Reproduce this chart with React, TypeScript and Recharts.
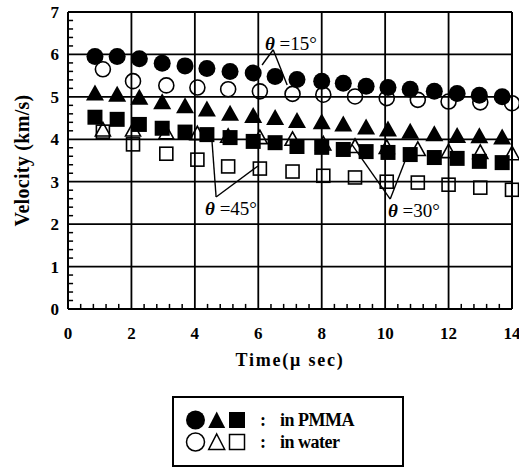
import React from 'react';
import {
  ScatterChart,
  Scatter,
  XAxis,
  YAxis,
  CartesianGrid,
  ReferenceLine,
  ReferenceDot,
  Legend,
} from 'recharts';

// ---- data (time in µs, velocity in km/s) ----
const pmmaTime = [0.85, 1.55, 2.25, 2.97, 3.69, 4.38, 5.11, 5.84, 6.53, 7.22, 8.0, 8.68, 9.4, 10.09, 10.79, 11.55, 12.27, 12.97, 13.69];
const pmmaTheta15 = [5.95, 5.95, 5.9, 5.79, 5.73, 5.67, 5.6, 5.56, 5.48, 5.41, 5.37, 5.32, 5.25, 5.22, 5.18, 5.13, 5.08, 5.04, 5.0];
const pmmaTheta30 = [5.08, 5.05, 4.98, 4.87, 4.78, 4.7, 4.6, 4.55, 4.5, 4.43, 4.4, 4.35, 4.28, 4.23, 4.18, 4.12, 4.08, 4.07, 4.04];
const pmmaTheta45 = [4.52, 4.47, 4.35, 4.26, 4.17, 4.11, 4.04, 3.95, 3.92, 3.83, 3.81, 3.76, 3.71, 3.69, 3.64, 3.57, 3.55, 3.48, 3.45];

const waterTime = [1.1, 2.05, 3.1, 4.08, 5.05, 6.05, 7.08, 8.05, 9.05, 10.05, 11.03, 12.0, 13.0, 14.0];
const waterTheta15 = [5.65, 5.37, 5.27, 5.22, 5.18, 5.13, 5.07, 5.05, 5.01, 4.97, 4.93, 4.89, 4.87, 4.85];
const waterTheta30 = [4.22, 4.22, 4.15, 4.13, 4.07, 4.04, 4.0, 3.89, 3.83, 3.81, 3.76, 3.71, 3.69, 3.66];
const waterTheta45 = [4.18, 3.88, 3.66, 3.52, 3.36, 3.31, 3.24, 3.14, 3.1, 3.0, 2.98, 2.93, 2.86, 2.81];

const xTicks = [0, 2, 4, 6, 8, 10, 12, 14];
const yTicks = [0, 1, 2, 3, 4, 5, 6, 7];
const xMinorTicks = [0.4, 0.8, 1.2, 1.6, 2.4, 2.8, 3.2, 3.6, 4.4, 4.8, 5.2, 5.6, 6.4, 6.8, 7.2, 7.6, 8.4, 8.8, 9.2, 9.6, 10.4, 10.8, 11.2, 11.6, 12.4, 12.8, 13.2, 13.6];
const yMinorTicks = [0.2, 0.4, 0.6, 0.8, 1.2, 1.4, 1.6, 1.8, 2.2, 2.4, 2.6, 2.8, 3.2, 3.4, 3.6, 3.8, 4.2, 4.4, 4.6, 4.8, 5.2, 5.4, 5.6, 5.8, 6.2, 6.4, 6.6, 6.8];

const toPoints = (times: number[], values: number[]) => times.map((t, i) => ({ t, v: values[i] }));

const FONT = '"Liberation Serif", "Times New Roman", serif';

// ---- marker shapes ----
const filledCircle = (p: any) => <circle cx={p.cx} cy={p.cy} r={8.5} fill="#000" />;
const openCircle = (p: any) => <circle cx={p.cx} cy={p.cy} r={7.5} fill="none" stroke="#000" strokeWidth={1.6} />;
const filledTriangle = (p: any) => {
  const { cx, cy } = p;
  return <polygon points={`${cx},${cy - 9} ${cx + 9},${cy + 7} ${cx - 9},${cy + 7}`} fill="#000" />;
};
const openTriangle = (p: any) => {
  const { cx, cy } = p;
  return (
    <polygon
      points={`${cx},${cy - 7.5} ${cx + 7.5},${cy + 6} ${cx - 7.5},${cy + 6}`}
      fill="none"
      stroke="#000"
      strokeWidth={1.6}
    />
  );
};
const filledSquare = (p: any) => <rect x={p.cx - 7.5} y={p.cy - 7.5} width={15} height={15} fill="#000" />;
const openSquare = (p: any) => (
  <rect x={p.cx - 6.5} y={p.cy - 6.5} width={13} height={13} fill="none" stroke="#000" strokeWidth={1.6} />
);

const thetaLabel = (text: string) => (props: any) => {
  const vb = props.viewBox || {};
  return (
    <text x={vb.x} y={vb.y} fontFamily={FONT} fontSize={19} fill="#000">
      <tspan fontStyle="italic" fontWeight="bold">θ</tspan>
      <tspan> ={text}</tspan>
    </text>
  );
};

const LegendBox = () => (
  <svg width={232} height={71} style={{ display: 'block' }}>
    <rect x={1} y={1} width={230} height={69} fill="#fff" stroke="#000" strokeWidth={2} />
    <circle cx={23.5} cy={24} r={9.5} fill="#000" />
    <polygon points="44.7,15.5 53.2,32 36.2,32" fill="#000" />
    <rect x={57} y={16} width={16} height={16} fill="#000" />
    <text x={88} y={30} fontFamily={FONT} fontWeight="bold" fontSize={18} fill="#000">:</text>
    <text x={108} y={30} fontFamily={FONT} fontWeight="bold" fontSize={18} letterSpacing={-0.5} fill="#000">in PMMA</text>
    <circle cx={23.5} cy={46} r={9} fill="none" stroke="#000" strokeWidth={1.5} />
    <polygon points="44.7,38 52.7,53.5 36.7,53.5" fill="none" stroke="#000" strokeWidth={1.5} />
    <rect x={57.5} y={38.5} width={15} height={15} fill="none" stroke="#000" strokeWidth={1.5} />
    <text x={88} y={52} fontFamily={FONT} fontWeight="bold" fontSize={18} fill="#000">:</text>
    <text x={108} y={52} fontFamily={FONT} fontWeight="bold" fontSize={18} letterSpacing={-0.5} fill="#000">in water</text>
  </svg>
);

const xTitle = (props: any) => {
  const vb = props.viewBox || {};
  return (
    <text
      x={vb.x + vb.width / 2}
      y={vb.y + 57}
      textAnchor="middle"
      fontFamily={FONT}
      fontWeight="bold"
      fontSize={18}
      letterSpacing={1.8}
      fill="#000"
    >
      Time(μ sec)
    </text>
  );
};

const yTitle = (props: any) => {
  const vb = props.viewBox || {};
  const cx = 29;
  const cy = vb.y + vb.height / 2;
  return (
    <text
      x={cx}
      y={cy}
      transform={`rotate(-90 ${cx} ${cy})`}
      textAnchor="middle"
      fontFamily={FONT}
      fontWeight="bold"
      fontSize={20}
      letterSpacing={0.3}
      fill="#000"
    >
      Velocity (km/s)
    </text>
  );
};

const tickStyle = { fill: '#000', fontSize: 17, fontWeight: 700, fontFamily: FONT };

export default function App() {
  return (
    <div style={{ position: 'absolute', left: 0, top: 0, width: 519, height: 471, background: '#fff' }}>
      <ScatterChart width={519} height={471} margin={{ top: 12, right: 7, bottom: 132, left: 28 }}>
        <CartesianGrid stroke="#000" strokeWidth={1.8} />
        <XAxis
          dataKey="t"
          type="number"
          domain={[0, 14]}
          ticks={xTicks}
          interval={0}
          tickLine={false}
          tickSize={0}
          tickMargin={18}
          height={30}
          axisLine={{ stroke: '#000', strokeWidth: 2 }}
          tick={tickStyle}
          label={xTitle}
        />
        <YAxis
          dataKey="v"
          type="number"
          domain={[0, 7]}
          ticks={yTicks}
          interval={0}
          tickLine={false}
          tickSize={0}
          tickMargin={9}
          width={40}
          axisLine={{ stroke: '#000', strokeWidth: 2 }}
          tick={tickStyle}
          label={yTitle}
        />
        <ReferenceLine y={7} stroke="#000" strokeWidth={2} />
        <ReferenceLine x={14} stroke="#000" strokeWidth={2} />
        {xMinorTicks.map((t) => (
          <ReferenceLine key={'xm' + t} segment={[{ x: t, y: 0 }, { x: t, y: 0.12 }]} stroke="#000" strokeWidth={1.5} />
        ))}
        {yMinorTicks.map((v) => (
          <ReferenceLine key={'ym' + v} segment={[{ x: 0, y: v }, { x: 0.16, y: v }]} stroke="#000" strokeWidth={1.5} />
        ))}

        <Scatter name="water θ=15°" data={toPoints(waterTime, waterTheta15)} shape={openCircle} isAnimationActive={false} />
        <Scatter name="water θ=30°" data={toPoints(waterTime, waterTheta30)} shape={openTriangle} isAnimationActive={false} />
        <Scatter name="water θ=45°" data={toPoints(waterTime, waterTheta45)} shape={openSquare} isAnimationActive={false} />
        <Scatter name="PMMA θ=15°" data={toPoints(pmmaTime, pmmaTheta15)} shape={filledCircle} isAnimationActive={false} />
        <Scatter name="PMMA θ=30°" data={toPoints(pmmaTime, pmmaTheta30)} shape={filledTriangle} isAnimationActive={false} />
        <Scatter name="PMMA θ=45°" data={toPoints(pmmaTime, pmmaTheta45)} shape={filledSquare} isAnimationActive={false} />

        {/* leader lines */}
        <ReferenceLine segment={[{ x: 6.12, y: 5.75 }, { x: 6.47, y: 6.11 }]} stroke="#000" strokeWidth={1.4} />
        <ReferenceLine segment={[{ x: 6.47, y: 6.11 }, { x: 6.91, y: 5.28 }]} stroke="#000" strokeWidth={1.4} />
        <ReferenceLine segment={[{ x: 4.67, y: 2.64 }, { x: 4.54, y: 3.96 }]} stroke="#000" strokeWidth={1.4} />
        <ReferenceLine segment={[{ x: 4.67, y: 2.64 }, { x: 5.99, y: 3.37 }]} stroke="#000" strokeWidth={1.4} />
        <ReferenceLine segment={[{ x: 10.16, y: 2.59 }, { x: 8.96, y: 3.87 }]} stroke="#000" strokeWidth={1.4} />
        <ReferenceLine segment={[{ x: 10.16, y: 2.59 }, { x: 10.79, y: 3.8 }]} stroke="#000" strokeWidth={1.4} />

        <ReferenceDot x={6.21} y={6.11} r={0} fill="none" stroke="none" label={thetaLabel('15°')} />
        <ReferenceDot x={4.32} y={2.22} r={0} fill="none" stroke="none" label={thetaLabel('45°')} />
        <ReferenceDot x={10.09} y={2.17} r={0} fill="none" stroke="none" label={thetaLabel('30°')} />

        <Legend
          layout="horizontal"
          verticalAlign="middle"
          align="center"
          wrapperStyle={{ left: 172, top: 396, width: 232, height: 71 }}
          content={() => <LegendBox />}
        />
      </ScatterChart>
    </div>
  );
}
